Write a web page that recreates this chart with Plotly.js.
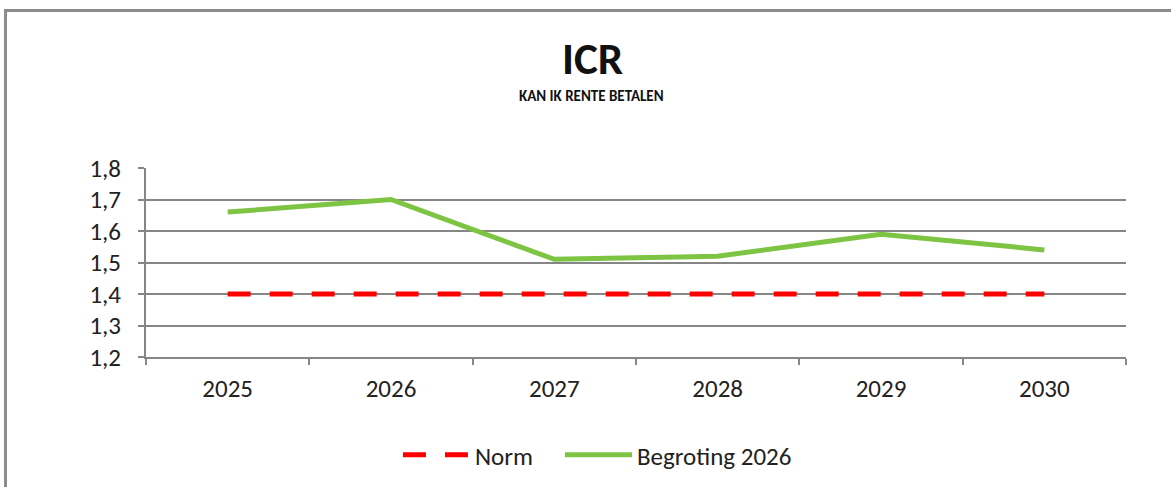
<!DOCTYPE html>
<html>
<head>
<meta charset="utf-8">
<script src="https://cdn.plot.ly/plotly-3.0.1.min.js"></script>
<style>
  html, body { margin: 0; padding: 0; background: #fff; }
  #wrap { position: relative; width: 1171px; height: 487px; overflow: hidden; }
  #frame { position: absolute; left: 4px; top: 9px; width: 1300px; height: 600px;
           border-left: 3px solid #8c8c8c; border-top: 3px solid #8c8c8c; }
  #chart { position: absolute; left: 0; top: 0; width: 1171px; height: 487px; }
</style>
</head>
<body>
<div id="wrap">
  <div id="frame"></div>
  <div id="chart"></div>
</div>
<script>
const years = ["2025", "2026", "2027", "2028", "2029", "2030"];
const normValues = [1.4, 1.4, 1.4, 1.4, 1.4, 1.4];
const begrotingValues = [1.66, 1.70, 1.51, 1.52, 1.59, 1.54];
const yTickValues = [1.2, 1.3, 1.4, 1.5, 1.6, 1.7, 1.8];
const yTickLabels = ["1,2", "1,3", "1,4", "1,5", "1,6", "1,7", "1,8"];

const FONT = "Carlito, 'Open Sans', 'Noto Sans', sans-serif";

const traces = [
  {
    x: years, y: normValues, name: "Norm", type: "scatter", mode: "lines",
    legend: "legend",
    line: { color: "#ff0000", width: 5, dash: "23px,19px" }
  },
  {
    x: years, y: begrotingValues, name: "Begroting 2026", type: "scatter", mode: "lines",
    legend: "legend2",
    line: { color: "#7dc443", width: 5 }
  }
];

const legendBase = {
  orientation: "h", xanchor: "left", y: -0.519, yanchor: "middle",
  font: { size: 25, color: "#222" }, itemwidth: 67, bgcolor: "rgba(0,0,0,0)"
};

const layout = {
  width: 1171, height: 487,
  paper_bgcolor: "rgba(0,0,0,0)", plot_bgcolor: "rgba(0,0,0,0)",
  margin: { l: 146, r: 45, t: 168, b: 130, autoexpand: false },
  font: { family: FONT, color: "#222", size: 25 },
  showlegend: true,
  legend: Object.assign({}, legendBase, { x: 0.2571 }),
  legend2: Object.assign({}, legendBase, { x: 0.4224 }),
  xaxis: {
    type: "category", range: [-0.5, 5.5],
    showgrid: false, showline: true, linecolor: "#868686", linewidth: 2,
    ticks: "outside", tickson: "boundaries", ticklen: 6, tickcolor: "#868686", tickwidth: 2,
    ticklabelstandoff: 8, zeroline: false, fixedrange: true
  },
  yaxis: {
    range: [1.2, 1.8], tickvals: yTickValues, ticktext: yTickLabels,
    showgrid: true, gridcolor: "#868686", gridwidth: 2,
    showline: true, linecolor: "#868686", linewidth: 2,
    ticks: "outside", ticklen: 6, tickcolor: "#868686", tickwidth: 2,
    ticklabelstandoff: 12, zeroline: false, fixedrange: true
  },
  annotations: [
    { text: "<b>ICR</b>", xref: "paper", yref: "paper", x: 0.456, y: 1.582,
      xanchor: "center", yanchor: "middle", showarrow: false,
      font: { family: FONT, size: 45, color: "#111" } },
    { text: "<b>KAN IK RENTE BETALEN</b>", xref: "paper", yref: "paper", x: 0.455, y: 1.381,
      xanchor: "center", yanchor: "middle", showarrow: false,
      font: { family: FONT, size: 15, color: "#111" } }
  ]
};

Plotly.newPlot("chart", traces, layout, { staticPlot: true, displayModeBar: false });
</script>
</body>
</html>
